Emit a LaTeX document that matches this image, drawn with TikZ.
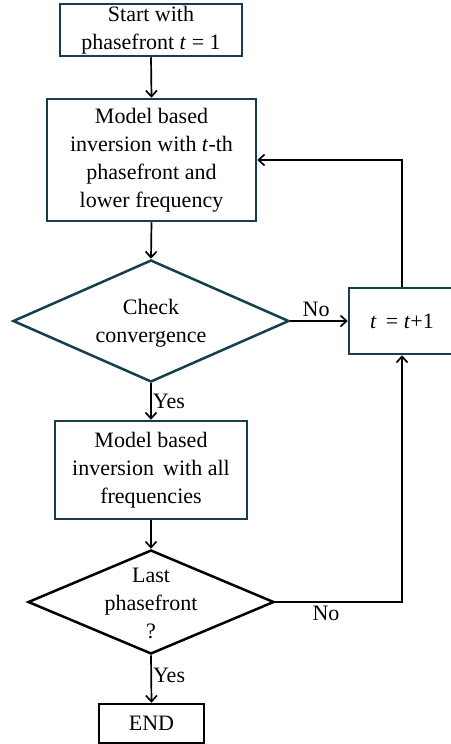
\documentclass[tikz,border=0pt]{standalone}
\usepackage{fontspec}
\setmainfont{Liberation Serif}
\usetikzlibrary{shapes.geometric,arrows.meta}
\definecolor{boxteal}{RGB}{22,62,78}
\begin{document}
\begin{tikzpicture}[x=1pt,y=-1pt,
  every node/.style={font=\fontsize{22}{28}\selectfont},
  procbox/.style={draw=boxteal,line width=2.5pt,rectangle,align=center,inner sep=0pt},
  endbox/.style={draw=black,line width=2.5pt,rectangle,align=center,inner sep=0pt},
  decision/.style={diamond,line width=2.5pt,inner sep=0pt},
  flow/.style={draw=black,line width=1.7pt,-{Straight Barb[length=6pt,width=11pt,line width=1.7pt]}},
  tag/.style={inner sep=1pt}]
\useasboundingbox (0,0) rectangle (450,744);

% process boxes
\node[procbox,minimum width=182pt,minimum height=52pt] (start) at (151,30) {Start with\\phasefront \textit{t} = 1};
\node[procbox,minimum width=209pt,minimum height=122pt] (inv) at (151.5,160) {Model based\\inversion with \textit{t}-th\\phasefront and\\lower frequency};
\node[decision,draw=boxteal,minimum width=276pt,minimum height=122pt] (conv) at (151,321) {};
\node[align=center] (convtxt) at (151,323) {Check\\convergence};
\node[procbox,minimum width=106pt,minimum height=66pt] (incr) at (402,321) {\textit{t}\, = \textit{t}+1};
\node[procbox,minimum width=192pt,minimum height=98pt] (all) at (151,470) {Model based\\inversion\, with all\\frequencies};
\node[decision,draw=black,minimum width=246pt,minimum height=104pt] (last) at (151,602) {};
\node[align=center] (lasttxt) at (151,603) {Last\\phasefront\\?};
\node[endbox,minimum width=105pt,minimum height=39pt] (fin) at (151.5,723.5) {END};

% connectors
\draw[flow] (start.south) -- (inv.north);
\draw[flow] (inv.south) -- (conv.north);
\draw[flow] (conv.east) -- node[tag,above,pos=0.45,yshift=2pt] {No} (incr.west);
\draw[flow] (conv.south) -- node[tag,right,pos=0.5] {Yes} (all.north);
\draw[flow] (all.south) -- (last.north);
\draw[flow] (last.south) -- node[tag,right,pos=0.42] {Yes} (fin.north);
\draw[flow] (last.east) -| node[tag,below,pos=0.2,yshift=-2pt] {No} (incr.south);
\draw[flow] (incr.north) |- (inv.east);
\end{tikzpicture}
\end{document}
